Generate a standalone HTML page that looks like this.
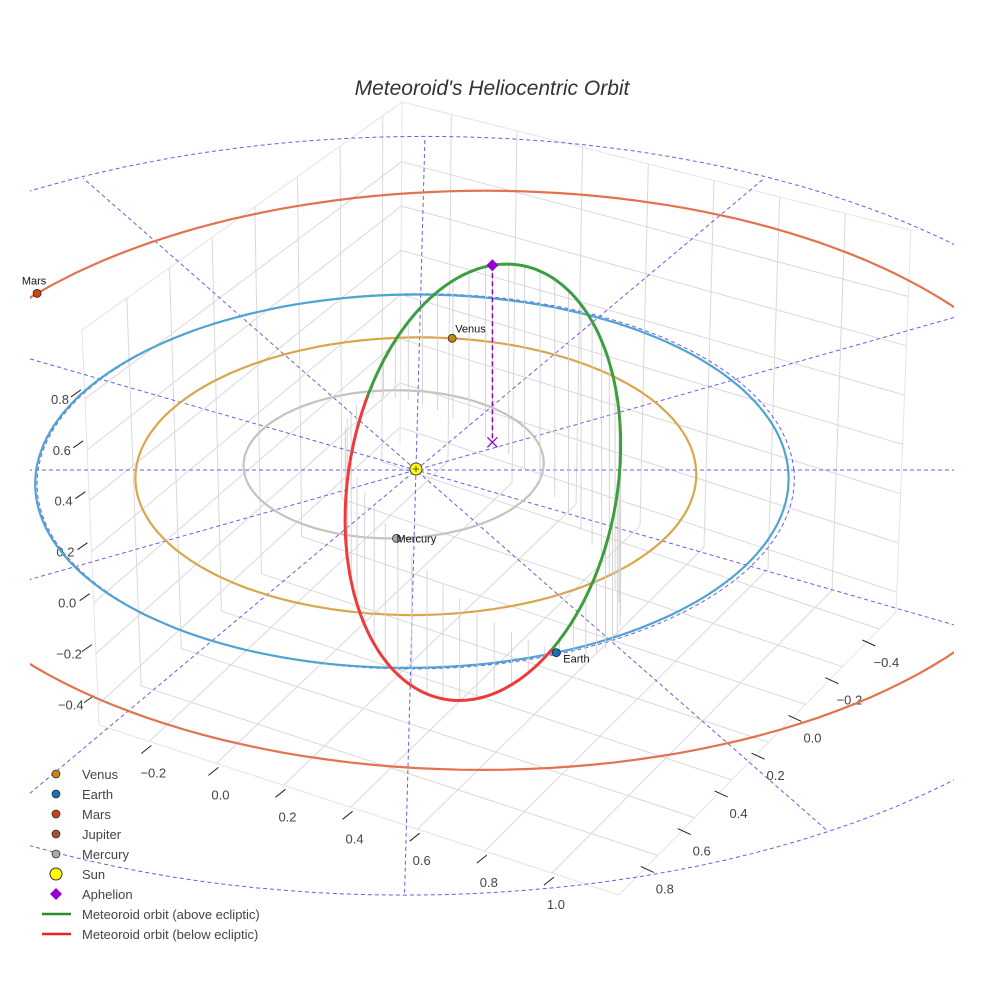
<!DOCTYPE html>
<html><head><meta charset="utf-8"><title>Meteoroid's Heliocentric Orbit</title>
<style>
html,body{margin:0;padding:0;background:#fff;}
svg{display:block;font-family:"Liberation Sans",Arial,sans-serif;}
</style></head>
<body>
<svg id="chart" width="984" height="984" viewBox="0 0 984 984" xmlns="http://www.w3.org/2000/svg">
  <defs><clipPath id="plotclip"><rect x="30" y="0" width="924" height="984"/></clipPath></defs>
  <rect x="0" y="0" width="984" height="984" fill="#fff"/>
  <text x="492" y="95" text-anchor="middle" font-size="21" font-style="italic" fill="#333">Meteoroid's Heliocentric Orbit</text>
  <g id="box"></g>
  <g id="eclip" clip-path="url(#plotclip)"></g>
  <g id="marks"></g>
  <g id="legend"></g>
</svg>
<script>
// ---- data ----
const orbitNames = ['Mercury', 'Venus', 'Earth', 'Mars'];
const orbitRadii = [0.40, 0.745, 1.0, 1.56];
const orbitCenterX = [-0.06, 0, -0.01, 0.18];
const orbitCenterY = [0.04, 0, 0, 0.09];
const orbitColors = ['#c9c1bd', '#d9a64c', '#4ea4d2', '#e2734f'];
const planetAngles = [-88, 83, -68, 144];
const planetColors = ['#a9a9a9', '#c98414', '#1a70b0', '#cc4410'];
const refCircleRadii = [1, 2];
const spokeAngles = [0, 30, 60, 90, 120, 150];
const meteorCenter = [0.168, -0.265, 0.128];
const meteorU = [0.035, 0.415, 0.415];
const meteorV = [0.360, -0.525, 0.345];
const xaTicks = [-0.2, 0.0, 0.2, 0.4, 0.6, 0.8, 1.0];
const yaTicks = [-0.4, -0.2, 0.0, 0.2, 0.4, 0.6, 0.8];
const zTicks = [-0.4, -0.2, 0.0, 0.2, 0.4, 0.6, 0.8];
const legendLabels = ['Venus', 'Earth', 'Mars', 'Jupiter', 'Mercury', 'Sun', 'Aphelion', 'Meteoroid orbit (above ecliptic)', 'Meteoroid orbit (below ecliptic)'];

// ---- projections ----
const CX = 416, CY = 470, FX = 376, FY = 186, FZ = 329, K = 0.06, SK = 5;
function proj(x, y, z) { const p = 1 / (1 + K * y); return [CX + (FX * x + SK * y) * p, CY - (FY * y + FZ * z) * p]; }
const XA0 = -0.35, XA1 = 1.2, YA0 = -0.49, YA1 = 1.01, Z0 = -0.48, Z1 = 1.07;
const cB = [400, 445], cR = [896, 612], cL = [99, 725], cF = [619, 895];
const tB = [402, 102], tR = [911, 230], tL = [82, 330], tF = [615, 462];
function bil(P, Q, R, S, a, b, c, d, k) { return a * P[k] + b * Q[k] + c * R[k] + d * S[k]; }
function boxPt(xa, ya, z) {
  const u = (xa - XA0) / (XA1 - XA0), v = (ya - YA0) / (YA1 - YA0), w = (z - Z0) / (Z1 - Z0);
  const a = (1 - u) * (1 - v), b = u * (1 - v), c = (1 - u) * v, d = u * v;
  const fx = bil(cB, cR, cL, cF, a, b, c, d, 0), fy = bil(cB, cR, cL, cF, a, b, c, d, 1);
  const gx = bil(tB, tR, tL, tF, a, b, c, d, 0), gy = bil(tB, tR, tL, tF, a, b, c, d, 1);
  return [fx + (gx - fx) * w, fy + (gy - fy) * w];
}
const NS = 'http://www.w3.org/2000/svg';
function mk(tag, attrs, parent) { const e = document.createElementNS(NS, tag); for (const k in attrs) e.setAttribute(k, attrs[k]); parent.appendChild(e); return e; }
function line(p, q, attrs, parent) { return mk('line', Object.assign({ x1: p[0].toFixed(1), y1: p[1].toFixed(1), x2: q[0].toFixed(1), y2: q[1].toFixed(1) }, attrs), parent); }
function pathFrom(pts) { return pts.map((p, i) => (i ? 'L' : 'M') + p[0].toFixed(1) + ' ' + p[1].toFixed(1)).join(''); }

// ---- box grid ----
const box = document.getElementById('box');
const gs = { stroke: '#d9d9d9', 'stroke-width': 1 };
xaTicks.forEach(v => {
  let l = line(boxPt(v, YA0, Z0), boxPt(v, YA1, Z0), gs, box);
  
  
  l = line(boxPt(v, YA0, Z0), boxPt(v, YA0, Z1), gs, box);
  
  
});
yaTicks.forEach(v => {
  let l = line(boxPt(XA0, v, Z0), boxPt(XA1, v, Z0), gs, box);
  
  
  l = line(boxPt(XA0, v, Z0), boxPt(XA0, v, Z1), gs, box);
  
  
});
zTicks.forEach(v => {
  let l = line(boxPt(XA0, YA0, v), boxPt(XA0, YA1, v), gs, box);
  
  
  l = line(boxPt(XA0, YA0, v), boxPt(XA1, YA0, v), gs, box);
  
  
});
[[[XA0, YA0, Z1], [XA1, YA0, Z1]], [[XA0, YA0, Z1], [XA0, YA1, Z1]], [[XA1, YA0, Z0], [XA1, YA0, Z1]], [[XA0, YA1, Z0], [XA0, YA1, Z1]],
 [[XA0, YA1, Z0], [XA1, YA1, Z0]], [[XA1, YA0, Z0], [XA1, YA1, Z0]], [[XA0, YA0, Z0], [XA0, YA0, Z1]]].forEach(e => {
  const l = line(boxPt(...e[0]), boxPt(...e[1]), { stroke: '#e4e4e4', 'stroke-width': 1 }, box);
  
  
});
// tick labels
const tickColor = '#444';
xaTicks.forEach(v => {
  const P = boxPt(v, YA1, Z0);
  const t = line([P[0] + 2, P[1] + 4], [P[0] - 8, P[1] + 12], { stroke: '#222', 'stroke-width': 1 }, box);
  
  
  const tx = mk('text', { x: (P[0] + 4).toFixed(1), y: (P[1] + 36).toFixed(1), 'text-anchor': 'middle', 'font-size': 13, fill: tickColor }, box);
  tx.textContent = (v < 0 ? '\u2212' : '') + Math.abs(v).toFixed(1);
  
  
});
yaTicks.forEach(v => {
  const P = boxPt(XA1, v, Z0);
  const t = line([P[0] - 17, P[1] + 11], [P[0] - 4, P[1] + 17], { stroke: '#222', 'stroke-width': 1 }, box);
  
  
  const tx = mk('text', { x: (P[0] + 7).toFixed(1), y: (P[1] + 38).toFixed(1), 'text-anchor': 'middle', 'font-size': 13, fill: tickColor }, box);
  tx.textContent = (v < 0 ? '\u2212' : '') + Math.abs(v).toFixed(1);
  
  
});
zTicks.forEach(v => {
  const P = boxPt(XA0, YA1, v);
  const t = line([P[0] - 14, P[1] - 2], [P[0] - 4, P[1] - 9], { stroke: '#222', 'stroke-width': 1 }, box);
  
  
  const tx = mk('text', { x: (60 + (0.8 - v) * 9).toFixed(1), y: (P[1] + 5).toFixed(1), 'text-anchor': 'middle', 'font-size': 13, fill: tickColor }, box);
  tx.textContent = (v < 0 ? '\u2212' : '') + Math.abs(v).toFixed(1);
  
  
});

// ---- ecliptic reference ----
const ecl = document.getElementById('eclip');
const dash = { stroke: '#6a5ce6', 'stroke-width': 1, 'stroke-dasharray': '4,3', fill: 'none' };
spokeAngles.forEach(a => {
  const r = a * Math.PI / 180;
  const l = line(proj(-2 * Math.cos(r), -2 * Math.sin(r), 0), proj(2 * Math.cos(r), 2 * Math.sin(r), 0), dash, ecl);
  
  
});
function circlePts(cx, cy, r) { const pts = []; for (let d = 0; d <= 360; d += 2) { const a = d * Math.PI / 180; pts.push(proj(cx + r * Math.cos(a), cy + r * Math.sin(a), 0)); } return pts; }
refCircleRadii.forEach(r => {
  const p = mk('path', Object.assign({ d: pathFrom(circlePts(0, 0, r * 1.005)) }, dash), ecl);
  
  
});
orbitNames.forEach((n, i) => {
  const p = mk('path', { d: pathFrom(circlePts(orbitCenterX[i], orbitCenterY[i], orbitRadii[i])), stroke: orbitColors[i], 'stroke-width': 2.2, fill: 'none' }, ecl);
  
  
});

// ---- meteoroid orbit ----
const marks = document.getElementById('marks');
function met(tdeg) {
  const t = tdeg * Math.PI / 180, c = Math.cos(t), s = Math.sin(t);
  return [0, 1, 2].map(k => meteorCenter[k] + meteorU[k] * c + meteorV[k] * s);
}
for (let d = 0; d < 360; d += 7) {
  const q = met(d);
  const l = line(proj(q[0], q[1], q[2]), proj(q[0], q[1], 0), { stroke: '#d0d0d0', 'stroke-width': 0.9 }, marks);
  
  
}
let seg = [], segAbove = null;
function flush() {
  if (seg.length > 1) {
    const p = mk('path', { d: pathFrom(seg), stroke: segAbove ? '#3d9e3f' : '#ee3a3a', 'stroke-width': 3, fill: 'none', 'stroke-linecap': 'round' }, marks);
    
    
  }
}
for (let d = 0; d <= 360; d += 1) {
  const q = met(d), above = q[2] >= 0, sp = proj(q[0], q[1], q[2]);
  if (segAbove === null) segAbove = above;
  if (above !== segAbove) { seg.push(sp); flush(); seg = [sp]; segAbove = above; } else seg.push(sp);
}
flush();
// aphelion
const ap = met(0), apS = proj(ap[0], ap[1], ap[2]), apG = proj(ap[0], ap[1], 0);
let el = line(apS, apG, { stroke: '#9400d3', 'stroke-width': 1.5, 'stroke-dasharray': '5,3' }, marks);


el = mk('path', { d: `M${apS[0]} ${apS[1] - 6}L${apS[0] + 6} ${apS[1]}L${apS[0]} ${apS[1] + 6}L${apS[0] - 6} ${apS[1]}Z`, fill: '#9400d3' }, marks);


el = mk('path', { d: `M${apG[0] - 5} ${apG[1] - 5}L${apG[0] + 5} ${apG[1] + 5}M${apG[0] + 5} ${apG[1] - 5}L${apG[0] - 5} ${apG[1] + 5}`, stroke: '#9400d3', 'stroke-width': 1.3 }, marks);



// ---- planets ----
const labelOff = { Mercury: [0, 4, 'start'], Venus: [3, -6, 'start'], Earth: [7, 10, 'start'], Mars: [-3, -9, 'middle'] };
orbitNames.forEach((n, i) => {
  const a = planetAngles[i] * Math.PI / 180;
  const P = proj(orbitCenterX[i] + orbitRadii[i] * Math.cos(a), orbitCenterY[i] + orbitRadii[i] * Math.sin(a), 0);
  const c = mk('circle', { cx: P[0].toFixed(1), cy: P[1].toFixed(1), r: 4, fill: planetColors[i], stroke: '#222', 'stroke-width': 0.8 }, marks);
  
  
  const o = labelOff[n];
  const t = mk('text', { x: (P[0] + o[0]).toFixed(1), y: (P[1] + o[1]).toFixed(1), 'text-anchor': o[2], 'font-size': 11, fill: '#111' }, marks);
  t.textContent = n;
  
  
});
const S = proj(0, 0, 0);
el = mk('circle', { cx: S[0], cy: S[1] - 1, r: 6, fill: '#ffff00', stroke: '#444', 'stroke-width': 1 }, marks);


el = mk('path', { d: `M${S[0] - 3} ${S[1] - 1}H${S[0] + 3}M${S[0]} ${S[1] - 4}V${S[1] + 2}`, stroke: '#555', 'stroke-width': 1 }, marks);



// ---- legend ----
const lg = document.getElementById('legend');
const legendSym = ['#c98414', '#1a70b0', '#cc4410', '#a0522d', '#a9a9a9', 'sun', 'diamond', '#2e8b2e', '#ee2222'];
legendLabels.forEach((lab, i) => {
  const y = 774 + i * 20, sym = legendSym[i];
  let m;
  if (sym === 'sun') m = mk('circle', { cx: 56, cy: y, r: 6, fill: '#ffff00', stroke: '#333', 'stroke-width': 1 }, lg);
  else if (sym === 'diamond') m = mk('path', { d: `M56 ${y - 6}L62 ${y}L56 ${y + 6}L50 ${y}Z`, fill: '#9400d3' }, lg);
  else if (i >= 7) m = mk('line', { x1: 42, y1: y, x2: 71, y2: y, stroke: sym, 'stroke-width': 2.5 }, lg);
  else m = mk('circle', { cx: 56, cy: y, r: 4, fill: sym, stroke: '#333', 'stroke-width': 0.8 }, lg);
  
  
  const t = mk('text', { x: 82, y: y + 5, 'font-size': 13, fill: '#444' }, lg);
  t.textContent = lab;
  
  
});
</script>
</body></html>
